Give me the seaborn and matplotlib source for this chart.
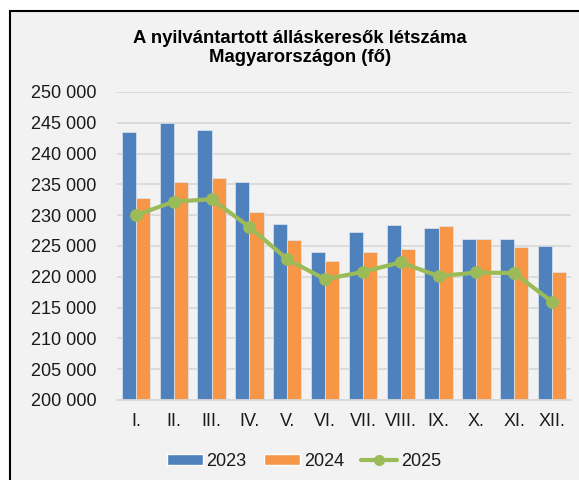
import pandas as pd
import matplotlib
matplotlib.use("Agg")
import matplotlib.pyplot as plt
from matplotlib.patches import Rectangle, Patch
from matplotlib.lines import Line2D
import matplotlib.ticker as mticker
import seaborn as sns

months = ["I.", "II.", "III.", "IV.", "V.", "VI.", "VII.", "VIII.", "IX.", "X.", "XI.", "XII."]
v2023 = [243500, 245000, 243800, 235400, 228600, 224100, 227300, 228400, 227900, 226100, 226100, 224950]
v2024 = [232800, 235400, 236000, 230500, 226000, 222600, 224100, 224500, 228250, 226100, 224800, 220700]
v2025 = [230000, 232200, 232600, 228100, 222850, 219600, 220800, 222350, 220100, 220700, 220600, 215950]

blue = "#4f81bd"
orange = "#f79646"
green = "#9bbb59"
txt = "#1a1a1a"

bars = pd.DataFrame({
    "month": months * 2,
    "year": ["2023"] * 12 + ["2024"] * 12,
    "value": v2023 + v2024,
})
line = pd.DataFrame({"month": months, "value": v2025})

sns.set_style("white")
plt.rcParams["font.family"] = ["Liberation Sans", "DejaVu Sans"]

fig = plt.figure(figsize=(5.79, 4.80), dpi=100, facecolor="white")
# grey chart area with black frame
fig.patches.append(Rectangle((10 / 579, -0.02), 1.0, 1 - 11 / 480 + 0.02,
                             transform=fig.transFigure, facecolor="#f2f2f2",
                             edgecolor="black", linewidth=1.5, zorder=-10))

ax = fig.add_axes([117 / 579, 1 - 400 / 480, (571 - 117) / 579, (400 - 92) / 480])
ax.set_facecolor("none")

sns.barplot(data=bars, x="month", y="value", hue="year", order=months,
            palette=[blue, orange], width=0.75, saturation=1,
            edgecolor="#dce6f2", linewidth=0.5, ax=ax, legend=False, zorder=2)
sns.pointplot(data=line, x="month", y="value", order=months, color=green,
              markers="o", markersize=7, linewidth=3, ax=ax, zorder=3)

ax.set_ylim(200000, 250000)
ax.set_xlim(-0.5, 11.5)
ax.yaxis.set_major_locator(mticker.MultipleLocator(5000))
ax.yaxis.set_major_formatter(mticker.FuncFormatter(lambda v, p: f"{int(v):,}".replace(",", " ")))
ax.grid(axis="y", color="#d9d9d9", linewidth=1.3, zorder=0)
ax.set_axisbelow(True)
for s in ["top", "right", "left"]:
    ax.spines[s].set_visible(False)
ax.spines["bottom"].set_color("#d9d9d9")
ax.spines["bottom"].set_linewidth(1.3)
ax.tick_params(axis="both", length=0, labelsize=13, colors=txt)
ax.tick_params(axis="x", pad=9)
ax.tick_params(axis="y", pad=15)
ax.set_xlabel("")
ax.set_ylabel("")

fig.text(300 / 579, 1 - 48 / 480, "A nyilvántartott álláskeresők létszáma\nMagyarországon (fő)",
         ha="center", va="center", fontsize=13.3, fontweight="bold", color="black",
         linespacing=1.1)

handles = [Patch(facecolor=blue, label="2023"),
           Patch(facecolor=orange, label="2024"),
           Line2D([], [], color=green, linewidth=3, marker="o", markersize=7, label="2025")]
fig.legend(handles=handles, loc="center", bbox_to_anchor=(304 / 579, 1 - 461 / 480), ncol=3,
           frameon=False, fontsize=13, handlelength=2.0, handleheight=0.55,
           handletextpad=0.22, columnspacing=0.95, labelcolor=txt)

fig.savefig("out.png", dpi=100, facecolor="white")
